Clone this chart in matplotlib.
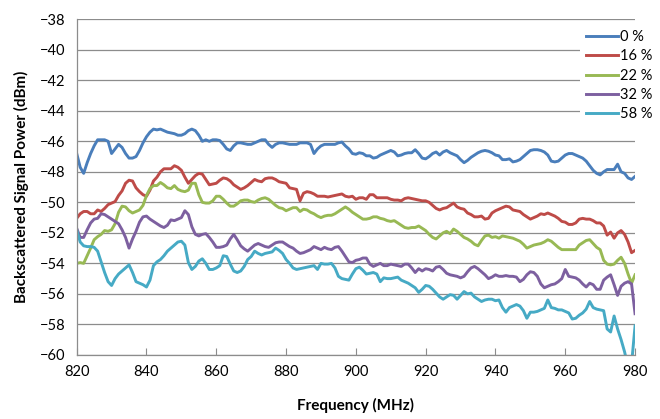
import matplotlib
matplotlib.use("Agg")
import matplotlib.pyplot as plt
import numpy as np

freq = list(range(820, 981))

p0 = [-46.8, -47.7, -48.1, -47.4, -46.8, -46.3, -45.9, -45.9, -45.9, -46.0,
      -46.8, -46.5, -46.2, -46.4, -46.8, -47.1, -47.1, -47.0, -46.6, -46.1,
      -45.7, -45.4, -45.2, -45.25, -45.2, -45.3, -45.4, -45.45, -45.5, -45.6,
      -45.6, -45.5, -45.3, -45.2, -45.3, -45.6, -46.0, -45.9, -46.0, -45.9,
      -45.9, -45.95, -46.2, -46.5, -46.6, -46.3, -46.1, -46.1, -46.15, -46.2,
      -46.2, -46.1, -46.0, -45.9, -45.9, -46.2, -46.4, -46.2, -46.1, -46.1,
      -46.15, -46.2, -46.2, -46.2, -46.1, -46.1, -46.1, -46.2, -46.8, -46.5,
      -46.3, -46.2, -46.2, -46.2, -46.2, -46.1, -46.05, -46.3, -46.5, -46.8,
      -46.85, -46.75, -46.8, -46.95, -46.95, -47.1, -47.05, -46.9, -46.8, -46.7,
      -46.6, -46.7, -46.95, -46.9, -46.8, -46.75, -46.75, -46.55, -46.8, -47.1,
      -47.15, -47.0, -46.8, -46.7, -46.9, -46.7, -46.6, -46.75, -46.85, -46.95,
      -47.2, -47.4, -47.25, -47.05, -46.9, -46.75, -46.65, -46.6, -46.65, -46.75,
      -46.9, -46.95, -47.2, -47.2, -47.15, -47.35, -47.3, -47.2, -47.0, -46.8,
      -46.6, -46.55, -46.55, -46.6, -46.7, -46.9, -47.3, -47.35, -47.3, -47.1,
      -46.9, -46.8, -46.8, -46.9, -47.0, -47.1, -47.3, -47.6, -47.9, -48.1,
      -48.2, -48.0, -47.85, -47.85, -47.85, -47.5, -48.0, -48.1, -48.4, -48.5, -48.3]

p16 = [-51.05, -50.75, -50.6, -50.6, -50.75, -50.75, -50.5, -50.6, -50.4, -50.15,
       -50.05, -49.95, -49.55, -49.25, -48.75, -48.55, -48.6, -49.05, -49.3, -49.5,
       -49.6, -49.2, -48.6, -48.35, -48.0, -47.8, -47.8, -47.8, -47.6, -47.7,
       -47.9, -48.35, -48.75, -48.5, -48.25, -48.1, -48.15, -48.5, -48.85, -48.8,
       -48.75, -48.55, -48.4, -48.45, -48.6, -48.85, -49.0, -49.15, -49.05, -48.9,
       -48.7, -48.5, -48.6, -48.65, -48.45, -48.4, -48.4, -48.5, -48.65, -48.7,
       -48.75, -49.05, -49.1, -49.15, -49.9, -49.4, -49.3, -49.35, -49.45, -49.6,
       -49.6, -49.6, -49.65, -49.6, -49.55, -49.5, -49.45, -49.6, -49.65, -49.6,
       -49.8, -49.7, -49.7, -49.8, -49.5, -49.5, -49.7, -49.7, -49.7, -49.7,
       -49.8, -49.85, -49.85, -49.9, -49.75, -49.7, -49.75, -49.8, -49.85, -49.9,
       -49.9, -50.0, -50.2, -50.4, -50.5, -50.4, -50.35, -50.2, -50.05, -50.3,
       -50.4, -50.45, -50.7, -50.8, -50.95, -50.95, -50.9, -51.1, -51.05, -50.7,
       -50.55, -50.45, -50.35, -50.25, -50.3, -50.5, -50.55, -50.6, -50.8, -50.95,
       -51.1, -51.0, -50.9, -50.75, -50.8, -50.7, -50.8, -50.9, -51.05, -51.25,
       -51.3, -51.45, -51.45, -51.35, -51.1, -51.05, -51.1, -51.1, -51.2, -51.35,
       -51.35, -51.55, -52.15, -51.95, -52.35, -52.0, -51.85, -52.1, -52.6, -53.3, -53.15]

p22 = [-54.0, -53.95, -54.0, -53.5, -53.0, -52.45, -52.25, -52.1, -51.85, -51.9,
       -51.8, -51.4, -50.65, -50.25, -50.3, -50.55, -50.7, -50.6, -50.5, -50.2,
       -49.55, -49.1, -48.9, -48.9, -48.7, -48.85, -49.05, -49.1, -48.9, -49.15,
       -49.25, -49.3, -49.2, -48.75, -48.75, -49.5, -50.0, -50.05, -50.05, -49.9,
       -49.6, -49.6, -49.8, -50.05, -50.25, -50.25, -50.1, -49.9, -49.85, -49.85,
       -49.95, -50.0, -49.85, -49.75, -49.7, -49.8, -50.0, -50.2, -50.35, -50.4,
       -50.55, -50.45, -50.35, -50.35, -50.6, -50.45, -50.5, -50.65, -50.75, -50.9,
       -51.0, -50.9, -50.85, -50.85, -50.75, -50.6, -50.45, -50.3, -50.45, -50.65,
       -50.8, -50.95, -51.1, -51.1, -51.05, -50.95, -50.95, -51.05, -51.1, -51.2,
       -51.25, -51.2, -51.35, -51.5, -51.65, -51.7, -51.65, -51.65, -51.55, -51.7,
       -51.85, -52.1, -52.3, -52.4, -52.2, -52.0, -51.9, -52.05, -51.75, -51.9,
       -52.1, -52.3, -52.4, -52.55, -52.75, -52.85, -52.5, -52.2, -52.15, -52.3,
       -52.25, -52.35, -52.2, -52.25, -52.3, -52.35, -52.45, -52.55, -52.75, -53.0,
       -52.9, -52.8, -52.75, -52.7, -52.6, -52.45, -52.55, -52.75, -52.95, -53.1,
       -53.1, -53.1, -53.1, -53.1, -52.8, -52.65, -52.5, -52.45, -52.7, -52.95,
       -53.1, -53.8, -54.05, -54.1, -54.05, -53.8, -53.6, -54.0, -54.7, -55.3, -54.75]

p32 = [-51.7, -52.3, -52.3, -51.8, -51.35, -51.1, -51.05, -50.75, -50.8, -50.95,
       -51.1, -51.25, -51.4, -51.8, -52.3, -53.0, -52.4, -51.9, -51.3, -50.95,
       -50.9, -51.1, -51.25, -51.4, -51.55, -51.65, -51.5, -51.15, -51.2, -51.1,
       -51.0, -50.55, -50.8, -51.6, -52.1, -52.2, -52.1, -52.05, -52.3, -52.6,
       -52.95, -52.95, -52.9, -52.8, -52.4, -52.1, -52.45, -52.85, -53.05, -53.2,
       -53.0, -52.8, -52.7, -52.8, -52.9, -52.95, -52.8, -52.65, -52.6, -52.6,
       -52.75, -52.9, -53.0, -53.2, -53.35, -53.3, -53.2, -53.1, -52.9, -53.0,
       -53.1, -52.95, -53.05, -53.1, -52.95, -52.9, -53.2, -53.55, -53.9, -53.95,
       -53.8, -53.75, -53.65, -53.65, -54.05, -54.2, -54.1, -54.0, -54.15, -54.15,
       -54.05, -54.1, -54.15, -54.2, -54.05, -54.05, -54.3, -54.6, -54.35, -54.5,
       -54.35, -54.4, -54.5, -54.25, -54.2, -54.4, -54.65, -54.75, -54.8, -54.85,
       -54.95, -54.85, -54.55, -54.3, -54.2, -54.35, -54.55, -54.75, -55.0, -54.9,
       -54.75, -54.85, -54.85, -54.8, -54.85, -54.85, -54.9, -55.2, -55.05, -54.75,
       -54.55, -54.6, -54.85, -55.35, -55.6, -55.5, -55.4, -55.35, -55.2, -55.0,
       -54.4, -54.85, -54.9, -54.95, -55.1, -55.35, -55.55, -55.3, -55.4, -55.7,
       -55.7, -55.1, -54.9, -54.75, -55.4, -56.1, -55.5, -55.3, -55.2, -55.35, -57.3]

p58 = [-51.8, -52.6, -52.85, -52.9, -52.9, -52.95, -53.2, -53.9, -54.6, -55.2,
       -55.45, -55.0, -54.7, -54.5, -54.3, -54.1, -54.6, -55.2, -55.3, -55.4,
       -55.55, -55.1, -54.15, -53.9, -53.75, -53.5, -53.2, -53.0, -52.8, -52.6,
       -52.55, -52.8, -53.95, -54.4, -54.2, -53.85, -53.7, -54.0, -54.4, -54.4,
       -54.3, -54.15, -53.5, -53.55, -54.05, -54.5, -54.6, -54.5, -54.2, -53.75,
       -53.55, -53.2, -53.35, -53.45, -53.35, -53.3, -53.25, -53.0, -53.15, -53.35,
       -53.75, -54.0, -54.3, -54.4, -54.35, -54.3, -54.25, -54.2, -54.15, -54.4,
       -54.0, -54.05, -54.05, -54.0, -54.3, -54.85, -55.0, -55.05, -55.1, -54.7,
       -54.35, -54.25, -54.45, -54.7, -54.65, -54.6, -54.7, -55.2, -54.95, -55.0,
       -55.0, -54.95, -54.9, -55.1, -55.2, -55.3, -55.45, -55.6, -55.9, -55.7,
       -55.45, -55.5, -55.7, -55.95, -56.2, -56.35, -56.2, -56.05, -56.1, -56.35,
       -56.1, -55.85, -56.0, -55.95, -56.2, -56.35, -56.5, -56.4, -56.35, -56.35,
       -56.45, -56.4, -56.9, -57.2, -56.9, -56.8, -56.7, -56.8, -57.1, -57.6,
       -57.2, -57.2, -57.15, -57.05, -56.95, -56.4, -56.9, -56.95, -57.05, -57.05,
       -57.15, -57.25, -57.65, -57.6, -57.4, -57.25, -57.0, -56.5, -56.9, -57.0,
       -57.05, -57.1, -58.3, -58.5, -57.45, -58.3, -59.0, -59.8, -60.8, -60.6, -58.1]

series = [("0 %", p0), ("16 %", p16), ("22 %", p22), ("32 %", p32), ("58 %", p58)]
colors = ["#4A7EBB", "#BE4B48", "#98B954", "#7D60A0", "#46AAC5"]

x_ticks = [820, 840, 860, 880, 900, 920, 940, 960, 980]
y_ticks = [-60, -58, -56, -54, -52, -50, -48, -46, -44, -42, -40, -38]

plt.rcParams['font.family'] = ['Lato', 'DejaVu Sans']

fig = plt.figure(figsize=(6.6, 4.19), dpi=100)
ax = fig.add_axes([0.1162, 0.153, 0.846, 0.801])

for (name, vals), c in zip(series, colors):
    ax.plot(freq, vals, color=c, lw=2.1, label=name, solid_joinstyle='round')

ax.set_xlim(820, 980)
ax.set_ylim(-60, -38)
ax.set_xticks(x_ticks)
ax.set_yticks(y_ticks)
ax.grid(axis='y', color='#8C8C8C', lw=0.9)
ax.set_axisbelow(True)
for s in ['top', 'right']:
    ax.spines[s].set_visible(False)
for s in ['left', 'bottom']:
    ax.spines[s].set_color('#8C8C8C')
    ax.spines[s].set_linewidth(0.9)
ax.tick_params(axis='x', direction='in', length=5, color='#8C8C8C', labelsize=10.5, pad=7)
ax.tick_params(axis='y', length=0, labelsize=10.5, pad=8)

ax.set_xlabel('Frequency (MHz)', fontsize=11, fontweight='bold', labelpad=14)
ax.set_ylabel('Backscattered Signal Power (dBm)', fontsize=11, fontweight='bold', labelpad=8)

leg = ax.legend(loc='upper left', bbox_to_anchor=(0.902, 0.985), frameon=True,
                fancybox=False, edgecolor='none', facecolor='white', framealpha=1,
                fontsize=10.5, handlelength=2.15, handletextpad=0.15,
                labelspacing=0.36, borderpad=0.4, borderaxespad=0)

fig.savefig('out.png', dpi=100)
